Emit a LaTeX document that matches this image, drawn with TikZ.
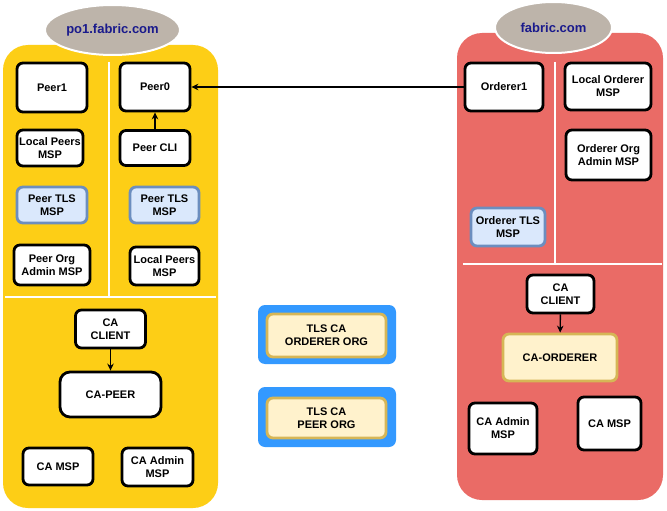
\documentclass[tikz,border=0pt]{standalone}
\usepackage{fontspec}
\setmainfont{Liberation Sans}
\usetikzlibrary{shapes.geometric,arrows.meta}
\definecolor{orgyellow}{RGB}{253,206,22}
\definecolor{orgred}{RGB}{234,107,102}
\definecolor{ellgray}{RGB}{189,180,170}
\definecolor{navytext}{RGB}{26,26,140}
\definecolor{tlsfill}{RGB}{218,232,252}
\definecolor{tlsline}{RGB}{108,142,191}
\definecolor{cafill}{RGB}{255,242,204}
\definecolor{caline}{RGB}{214,182,86}
\definecolor{tlsblue}{RGB}{51,153,255}
\begin{document}
\begin{tikzpicture}[x=1pt,y=-1pt,
  every node/.style={font=\fontsize{11}{13}\selectfont\bfseries, align=center, inner sep=1pt},
  wbox/.style={draw=black, fill=white, line width=2.8pt, rounded corners=6pt},
  tbox/.style={draw=tlsline, fill=tlsfill, line width=2.8pt, rounded corners=6pt},
  cbox/.style={draw=caline, fill=cafill, line width=2.8pt, rounded corners=6pt},
  obox/.style={draw=none, fill=tlsblue, rounded corners=7pt},
  dom/.style={ellipse, fill=ellgray, draw=white, line width=2pt, text=navytext, font=\fontsize{13}{15}\selectfont\bfseries},
  divider/.style={draw=white, line width=2pt},
  conn/.style={draw=black, line width=1.4pt, -{Stealth[length=7pt,width=6.5pt]}}
]
\useasboundingbox (0,0) rectangle (667,511);
\fill[white] (0,0) rectangle (667,511);
% containers
\fill[orgyellow, rounded corners=25pt] (3,45) rectangle (218,508);
\fill[orgred, rounded corners=25pt] (457,33) rectangle (663,500);
% domain ellipses
\node[dom, minimum width=135pt, minimum height=50pt] (d1) at (112.5,30) {po1.fabric.com};
\node[dom, minimum width=117pt, minimum height=51pt] (d2) at (553.5,27.5) {fabric.com};
% dividers
\draw[divider] (109,62) -- (109,297);
\draw[divider] (5,297) -- (216,297);
\draw[divider] (555,62) -- (555,264);
\draw[divider] (463,264) -- (662,264);
% peer org left column
\node[wbox, minimum width=70pt, minimum height=49pt] (peer1) at (52,87.5) {Peer1};
\node[wbox, minimum width=66pt, minimum height=36pt] (lpm1) at (50,148) {Local Peers\\MSP};
\node[tbox, minimum width=70pt, minimum height=36pt] (ptls1) at (52,205) {Peer TLS\\MSP};
\node[wbox, minimum width=76pt, minimum height=40pt] (poadm) at (52,265) {Peer Org\\Admin MSP};
% peer org right column
\node[wbox, minimum width=70pt, minimum height=48pt] (peer0) at (155,87) {Peer0};
\node[wbox, minimum width=70pt, minimum height=35pt] (pcli) at (155,148) {Peer CLI};
\node[tbox, minimum width=69pt, minimum height=36pt] (ptls0) at (164.5,205) {Peer TLS\\MSP};
\node[wbox, minimum width=69pt, minimum height=38pt] (lpm0) at (164.5,266) {Local Peers\\MSP};
% peer org CA
\node[wbox, minimum width=70pt, minimum height=38pt] (cacl1) at (110.5,329) {CA\\CLIENT};
\node[wbox, minimum width=101pt, minimum height=45pt, rounded corners=10pt] (capeer) at (110.5,394.5) {CA-PEER};
\node[wbox, minimum width=70pt, minimum height=37pt] (camsp1) at (58,466.5) {CA MSP};
\node[wbox, minimum width=71pt, minimum height=38pt] (caadm1) at (157.5,467) {CA Admin\\MSP};
% orderer org
\node[wbox, minimum width=78pt, minimum height=48pt] (ord1) at (504,87) {Orderer1};
\node[wbox, minimum width=86pt, minimum height=47pt] (lom) at (608,86.5) {Local Orderer\\MSP};
\node[wbox, minimum width=85pt, minimum height=50pt] (ooadm) at (608.5,155) {Orderer Org\\Admin MSP};
\node[tbox, minimum width=74pt, minimum height=38pt] (otls) at (508,227) {Orderer TLS\\MSP};
\node[wbox, minimum width=67pt, minimum height=38pt] (cacl2) at (560.5,294) {CA\\CLIENT};
\node[cbox, minimum width=114pt, minimum height=47pt] (caord) at (560,357.5) {CA-ORDERER};
\node[wbox, minimum width=68pt, minimum height=51pt] (caadm2) at (503,428.5) {CA Admin\\MSP};
\node[wbox, minimum width=63pt, minimum height=53pt] (camsp2) at (609.5,423.5) {CA MSP};
% TLS CAs
\node[obox, minimum width=138pt, minimum height=59pt] (tlso) at (327,334.5) {};
\node[cbox, minimum width=119pt, minimum height=43pt] (tlsoi) at (326.5,335.5) {TLS CA\\ORDERER ORG};
\node[obox, minimum width=138pt, minimum height=60pt] (tlsp) at (327,417) {};
\node[cbox, minimum width=119pt, minimum height=40pt] (tlspi) at (326.5,418) {TLS CA\\PEER ORG};
% connectors
\draw[conn] (pcli) -- (peer0);
\draw[conn] (cacl1) -- (capeer);
\draw[conn] (cacl2) -- (caord);
\draw[conn] (ord1.west) -- (peer0.east);
\end{tikzpicture}
\end{document}
